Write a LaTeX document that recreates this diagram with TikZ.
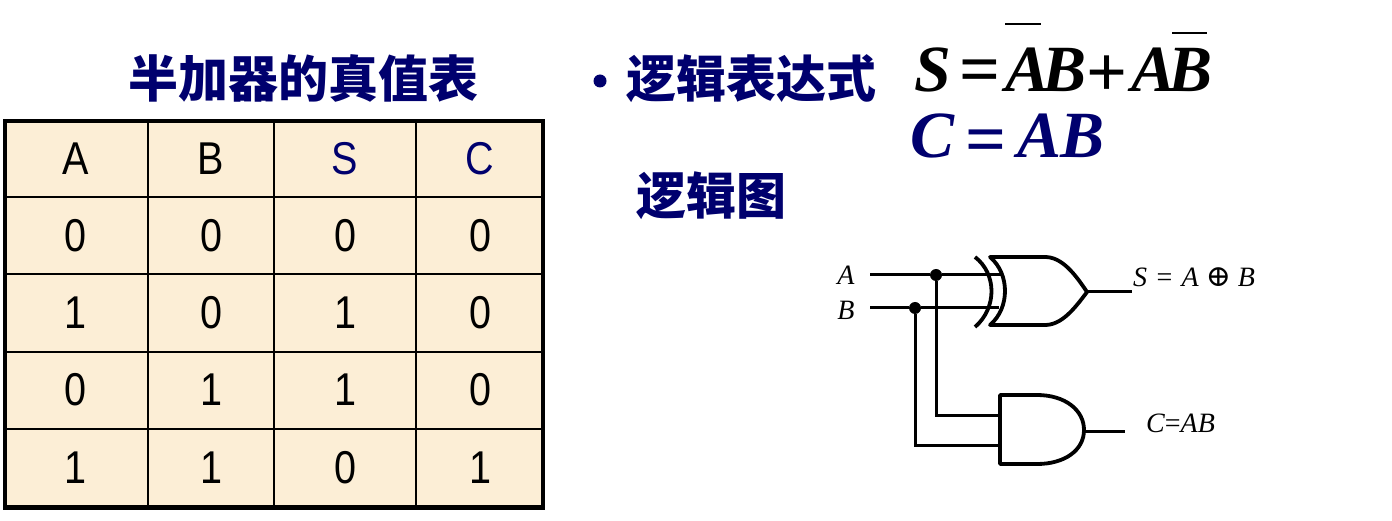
\documentclass[tikz,border=0pt]{standalone}
\usepackage{fontspec}
\setmainfont{Liberation Sans}[FakeStretch=0.86]
\newfontfamily\cjk{Noto Sans CJK SC}[BoldFont={Noto Sans CJK SC Black}]
\newfontfamily\timesfont{Liberation Serif}
\usetikzlibrary{positioning}
\definecolor{titleColor}{RGB}{0,0,110}
\definecolor{cellColor}{RGB}{252,238,214}
\tikzset{cell/.style={draw, line width=2pt, fill=cellColor, inner sep=0pt, font=\fontsize{46}{46}\selectfont}}
\tikzset{heading/.style={text=titleColor, inner sep=0pt, font=\fontsize{50}{50}\selectfont\cjk\bfseries}}
\tikzset{formula/.style={inner sep=0pt, font=\fontsize{66}{66}\selectfont\timesfont\bfseries\itshape}}
\tikzset{symbol/.style={inner sep=0pt, font=\fontsize{72}{72}\selectfont\timesfont\bfseries}}
\tikzset{gatelabel/.style={inner sep=0pt, font=\fontsize{28}{28}\selectfont\timesfont\itshape}}
\tikzset{wire/.style={line width=3pt}}
\tikzset{gate/.style={line width=3.8pt, line join=round}}
\tikzset{junction/.style={circle, fill=black, inner sep=0pt, minimum size=12pt}}

\begin{document}
\begin{tikzpicture}[x=1pt, y=-1pt]
	\useasboundingbox (0,0) rectangle (1392,521);

	% Headings
	\node (title) [heading] at (303,78) {半加器的真值表};
	\node (bullet) [circle, fill=titleColor, inner sep=0pt, minimum size=13pt] at (600,81) {};
	\node (exprtitle) [heading] at (751,79) {逻辑表达式};
	\node (diagtitle) [heading] at (711,196) {逻辑图};

	% Truth table
	\foreach \name/\xpos/\wid/\col/\vals in {
		A/76/144/black/{A,0,1,0,1},
		B/211/126/black/{B,0,0,1,1},
		S/345/142/titleColor/{S,0,1,1,0},
		C/480/128/titleColor/{C,0,0,0,1}} {
		\foreach \val [count=\row] in \vals {
			\pgfmathsetmacro{\ypos}{158.5+77.2*(\row-1)}
			\ifnum\row=1
				\node (cell\name\row) [cell, text=\col, minimum width=\wid pt, minimum height=77.2pt] at (\xpos,\ypos) {\val};
			\else
				\node (cell\name\row) [cell, minimum width=\wid pt, minimum height=77.2pt] at (\xpos,\ypos) {\val};
			\fi
		}
	}
	\node (tablebox) [draw, line width=4pt, inner sep=0pt, minimum width=538pt, minimum height=387pt] at (273.5,314.5) {};

	% Formulas
	\node (eqS) [formula] at (933,70) {S};
	\node (eqSeq) [symbol] at (980,77) {=};
	\node (eqSa) [formula] at (1046,70) {A\kern-7pt B};
	\node (eqSplus) [symbol] at (1107,76) {+};
	\node (eqSb) [formula] at (1172,70) {A\kern-7pt B};
	\draw [line width=1.5pt] (1005,24) -- (1041,24);
	\draw [line width=1.5pt] (1172,33) -- (1207,33);
	\node (eqC) [formula, text=titleColor] at (932,136) {C};
	\node (eqCeq) [symbol, text=titleColor] at (986,147) {=};
	\node (eqCab) [formula, text=titleColor] at (1061,136) {A\kern-1pt B};

	% Gates
	\coordinate (xortop) at (990,257);
	\coordinate (xorbot) at (990,325);
	\coordinate (xortip) at (1087,292);
	\draw [gate] (xortop) -- (1045,257) .. controls (1062,257) and (1075,274) .. (xortip)
		.. controls (1075,308) and (1062,325) .. (1045,325) -- (xorbot)
		.. controls (1010,308) and (1010,274) .. cycle;
	\draw [gate] (975,257) .. controls (997,274) and (997,308) .. (975,327);
	\coordinate (andtip) at (1084,430);
	\draw [gate] (1000,395) -- (1037,395) .. controls (1065,395) and (1084,410) .. (andtip)
		.. controls (1084,450) and (1065,464) .. (1037,464) -- (1000,464) -- cycle;

	% Labels
	\node (labelA) [gatelabel] at (846,275) {A};
	\node (labelB) [gatelabel] at (846,310) {B};
	\node (labelS) [gatelabel, anchor=west] at (1133,277) {S\,\,{\upshape =}\,\,A {\upshape\fontspec{DejaVu Serif}\fontsize{30}{30}\selectfont ⊕} B};
	\node (labelC) [gatelabel, anchor=west] at (1146,423) {C{\upshape =}AB};

	% Connectors
	\coordinate (inA) at (870,275);
	\coordinate (inB) at (870,308);
	\node (dotA) [junction] at (936,275) {};
	\node (dotB) [junction] at (915,308) {};
	\coordinate (xorA) at (1002,275);
	\coordinate (xorB) at (999,308);
	\coordinate (andA) at (1000,415);
	\coordinate (andB) at (1000,445);
	\coordinate (outS) at (1132,292);
	\coordinate (outC) at (1125,431);

	\draw [wire] (inA) -- (dotA) -- (xorA);
	\draw [wire] (inB) -- (dotB) -- (xorB);
	\draw [wire] (dotA) |- (andA);
	\draw [wire] (dotB) |- (andB);
	\draw [wire] (xortip) -- (outS);
	\draw [wire] (andtip |- outC) -- (outC);
\end{tikzpicture}
\end{document}
